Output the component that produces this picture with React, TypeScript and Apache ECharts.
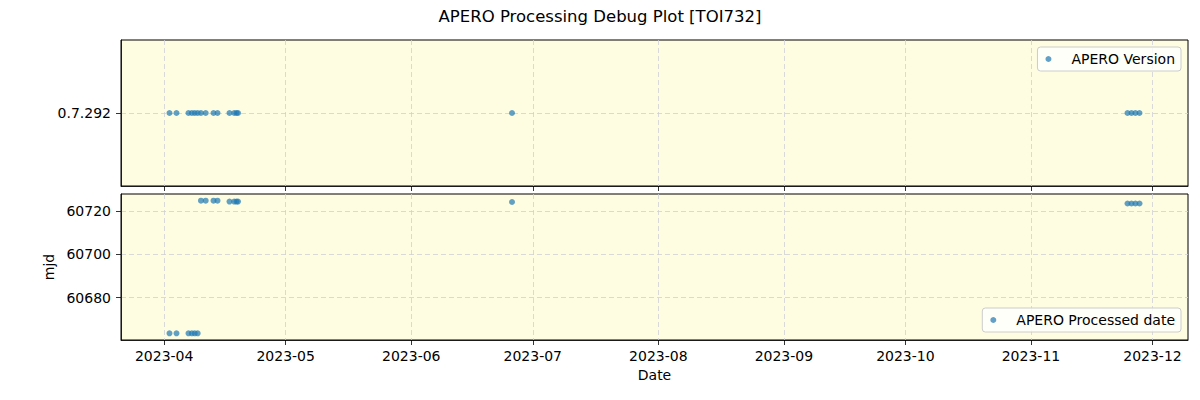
import { useEffect, useRef } from 'react';
import * as echarts from 'echarts';

const obsDates = [
  '2023-04-02 07:30', '2023-04-04 01:00', '2023-04-07 00:00', '2023-04-07 20:00',
  '2023-04-08 13:00', '2023-04-09 06:30', '2023-04-10 02:00', '2023-04-11 06:00',
  '2023-04-13 04:20', '2023-04-14 04:00', '2023-04-17 03:00', '2023-04-18 07:00',
  '2023-04-18 20:40', '2023-04-19 05:30', '2023-06-25 21:00', '2023-11-24 20:00',
  '2023-11-25 19:40', '2023-11-26 19:00', '2023-11-27 19:00',
];
const versionLabels = ['0.7.292'];
const versionIndex = [0, 0, 0, 0, 0, 0, 0, 0, 0, 0, 0, 0, 0, 0, 0, 0, 0, 0, 0];
const mjdValues = [
  60663.4, 60663.4, 60663.4, 60663.4, 60663.4, 60663.4,
  60724.9, 60724.9, 60724.9, 60724.9,
  60724.5, 60724.5, 60724.5, 60724.5,
  60724.3,
  60723.6, 60723.6, 60723.6, 60723.6,
];
const monthTicks = [
  '2023-04-01 00:00', '2023-05-01 00:00', '2023-06-01 00:00', '2023-07-01 00:00', '2023-08-01 00:00',
  '2023-09-01 00:00', '2023-10-01 00:00', '2023-11-01 00:00', '2023-12-01 00:00',
];
const mjdTicks = [60680, 60700, 60720];
const xMin = '2023-03-21 08:10';
const xMax = '2023-12-09 18:30';
const mjdMin = 60660.3;
const mjdMax = 60728.0;

function parseLocal(s: string): number {
  const [d, t] = s.split(' ');
  const [y, m, day] = d.split('-').map(Number);
  const [hh, mm] = (t || '00:00').split(':').map(Number);
  return new Date(y, m - 1, day, hh, mm).getTime();
}
function fmtMonth(v: number): string {
  const dt = new Date(v);
  const m = dt.getMonth() + 1;
  return `${dt.getFullYear()}-${m < 10 ? '0' + m : m}`;
}

const FONT = 'DejaVu Sans';
const BG = '#fefde2';
const GRID_LINE = { show: true, lineStyle: { color: '#cfcfd6', type: [5, 3] as any, width: 0.8 } };
const TICK = { show: true, length: 5, lineStyle: { color: '#000', width: 0.8 } };
const AXIS_LINE = { show: true, onZero: false, lineStyle: { color: '#000', width: 0.8 } };

export default function App() {
  const ref = useRef<HTMLDivElement>(null);
  useEffect(() => {
    if (!ref.current) return;
    const chart = echarts.init(ref.current, undefined, { renderer: 'svg' });
    const monthMs = monthTicks.map(parseLocal);
    const xCommon = {
      type: 'value' as const,
      min: parseLocal(xMin),
      max: parseLocal(xMax),
      axisLine: AXIS_LINE,
      axisTick: { ...TICK, customValues: monthMs },
      splitLine: GRID_LINE,
    };
    const legendCommon = {
      right: 19,
      orient: 'horizontal' as const,
      backgroundColor: 'rgba(255,255,255,0.8)',
      borderColor: '#cccccc',
      borderWidth: 1,
      borderRadius: 3,
      padding: [5, 6, 5, 8],
      itemWidth: 20,
      itemHeight: 6,
      itemGap: 0,
      icon: 'circle',
      textStyle: { fontFamily: FONT, fontSize: 14, color: '#000', padding: [0, 0, 0, 8] },
    };
    chart.setOption({
      animation: false,
      title: {
        text: 'APERO Processing Debug Plot [TOI732]',
        left: 'center',
        top: 3,
        textStyle: { fontFamily: FONT, fontSize: 16.5, fontWeight: 'normal', color: '#000' },
      },
      grid: [
        { left: 121, right: 12, top: 40, height: 146, show: true, backgroundColor: BG, borderColor: '#000', borderWidth: 1 },
        { left: 121, right: 12, top: 194, height: 146, show: true, backgroundColor: BG, borderColor: '#000', borderWidth: 1 },
      ],
      xAxis: [
        { ...xCommon, gridIndex: 0, axisLabel: { show: false, customValues: monthMs } },
        {
          ...xCommon,
          gridIndex: 1,
          name: 'Date',
          nameLocation: 'middle',
          nameGap: 28,
          nameTextStyle: { fontFamily: FONT, fontSize: 14, color: '#000' },
          axisLabel: {
            show: true,
            customValues: monthMs,
            formatter: fmtMonth,
            fontFamily: FONT,
            fontSize: 14,
            color: '#000',
            margin: 9,
          },
        },
      ],
      yAxis: [
        {
          type: 'value',
          gridIndex: 0,
          min: -1,
          max: 1,
          axisLine: AXIS_LINE,
          axisTick: { ...TICK, customValues: [0] },
          axisLabel: {
            customValues: [0],
            formatter: (v: number) => versionLabels[Math.round(v)] ?? '',
            fontFamily: FONT,
            fontSize: 14,
            color: '#000',
            margin: 10,
          },
          splitLine: GRID_LINE,
        },
        {
          type: 'value',
          gridIndex: 1,
          min: mjdMin,
          max: mjdMax,
          name: 'mjd',
          nameLocation: 'middle',
          nameGap: 60,
          nameTextStyle: { fontFamily: FONT, fontSize: 14, color: '#000' },
          axisLine: AXIS_LINE,
          axisTick: { ...TICK, customValues: mjdTicks },
          axisLabel: {
            customValues: mjdTicks,
            formatter: (v: number) => String(Math.round(v)),
            fontFamily: FONT,
            fontSize: 14,
            color: '#000',
            margin: 10,
          },
          splitLine: GRID_LINE,
        },
      ],
      legend: [
        { ...legendCommon, top: 47, data: ['APERO Version'] },
        { ...legendCommon, top: 308, data: ['APERO Processed date'] },
      ],
      series: [
        {
          name: 'APERO Version',
          type: 'scatter',
          xAxisIndex: 0,
          yAxisIndex: 0,
          symbolSize: 6,
          itemStyle: { color: '#1f77b4', opacity: 0.7 },
          data: obsDates.map((d, i) => [parseLocal(d), versionIndex[i]]),
        },
        {
          name: 'APERO Processed date',
          type: 'scatter',
          xAxisIndex: 1,
          yAxisIndex: 1,
          symbolSize: 6,
          itemStyle: { color: '#1f77b4', opacity: 0.7 },
          data: obsDates.map((d, i) => [parseLocal(d), mjdValues[i]]),
        },
      ],
    });
    return () => chart.dispose();
  }, []);
  return (
    <div
      ref={ref}
      style={{ position: 'fixed', left: 0, top: 0, width: 1200, height: 400, background: '#fff' }}
    />
  );
}
